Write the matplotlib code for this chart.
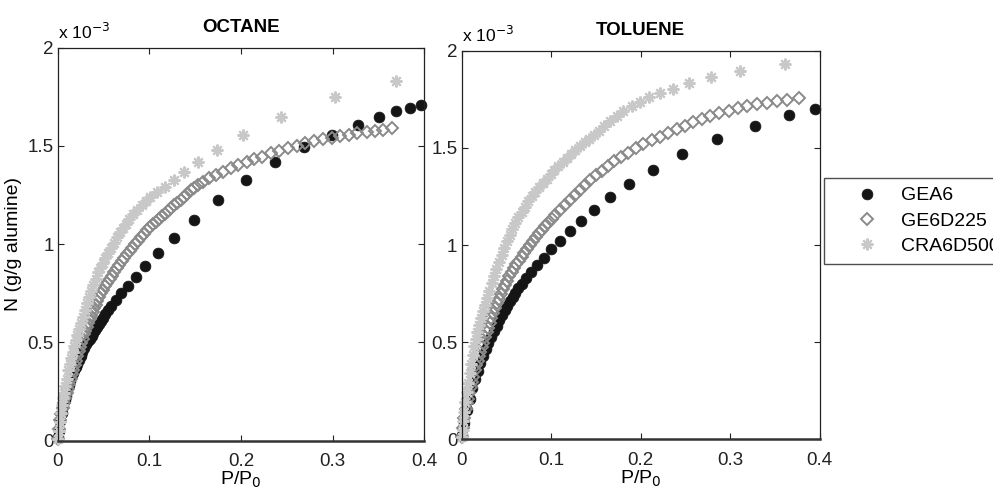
import matplotlib
matplotlib.use('Agg')
import matplotlib.pyplot as plt
from matplotlib.lines import Line2D

plt.rcParams['font.family'] = ['Liberation Sans', 'DejaVu Sans']

# series labels
labels = ['GEA6', 'GE6D225', 'CRA6D500']

# ---- OCTANE : P/P0 and N (N in units of 1e-3 g/g alumine) ----
oct_gea6_p = [0.0005, 0.0015, 0.003, 0.0045, 0.006, 0.0075, 0.009, 0.0105, 0.012, 0.0135,
              0.015, 0.0165, 0.018, 0.0195, 0.021, 0.023, 0.025, 0.027, 0.029, 0.031,
              0.033, 0.035, 0.037, 0.039, 0.041, 0.043, 0.045, 0.047, 0.0495, 0.052,
              0.0548, 0.0577, 0.0632, 0.069, 0.0766, 0.0853, 0.0955, 0.1098, 0.1269, 0.1484,
              0.1752, 0.2055, 0.2371, 0.2691, 0.2996, 0.3277, 0.3502, 0.369, 0.3844, 0.396]
oct_gea6_n = [0.02, 0.05, 0.10, 0.14, 0.175, 0.205, 0.23, 0.26, 0.285, 0.305,
              0.325, 0.345, 0.36, 0.375, 0.39, 0.41, 0.43, 0.45, 0.47, 0.49,
              0.505, 0.52, 0.535, 0.55, 0.565, 0.58, 0.595, 0.61, 0.625, 0.645,
              0.665, 0.685, 0.716, 0.750, 0.787, 0.833, 0.889, 0.957, 1.033, 1.123,
              1.223, 1.325, 1.417, 1.496, 1.554, 1.607, 1.646, 1.678, 1.695, 1.708]

oct_ge6d225_p = [0.0002, 0.0012, 0.0025, 0.004, 0.0055, 0.007, 0.0085, 0.0098, 0.0113, 0.0128,
                 0.0143, 0.0157, 0.017, 0.0185, 0.020, 0.0215, 0.023, 0.0243, 0.0258, 0.0273,
                 0.0288, 0.0302, 0.0316, 0.0332, 0.0348, 0.0364, 0.038, 0.0397, 0.0415, 0.0434,
                 0.0454, 0.0475, 0.0498, 0.052, 0.0543, 0.0567, 0.0592, 0.0618, 0.0644, 0.067,
                 0.0698, 0.0726, 0.0755, 0.0785, 0.0815, 0.0846, 0.0878, 0.091, 0.0942, 0.0975,
                 0.1007, 0.1038, 0.107, 0.1102, 0.1135, 0.1168, 0.1202, 0.1236, 0.127, 0.1305,
                 0.134, 0.1376, 0.1413, 0.1451, 0.149, 0.153, 0.1582, 0.1651, 0.1727, 0.1807,
                 0.1891, 0.1971, 0.2062, 0.2146, 0.2233, 0.2324, 0.2415, 0.2509, 0.2608, 0.2702,
                 0.28, 0.2891, 0.299, 0.308, 0.3178, 0.3269, 0.3372, 0.3462, 0.3553, 0.3651]
oct_ge6d225_n = [0.01, 0.06, 0.105, 0.135, 0.165, 0.19, 0.215, 0.241, 0.265, 0.29,
                 0.315, 0.338, 0.36, 0.384, 0.408, 0.432, 0.456, 0.478, 0.499, 0.52,
                 0.541, 0.56, 0.58, 0.599, 0.618, 0.637, 0.656, 0.674, 0.693, 0.712,
                 0.731, 0.75, 0.767, 0.785, 0.803, 0.822, 0.84, 0.86, 0.878, 0.895,
                 0.913, 0.93, 0.948, 0.966, 0.983, 1.0, 1.018, 1.035, 1.052, 1.07,
                 1.088, 1.101, 1.115, 1.128, 1.142, 1.156, 1.17, 1.184, 1.198, 1.212,
                 1.227, 1.242, 1.258, 1.274, 1.287, 1.3, 1.318, 1.335, 1.352, 1.369,
                 1.386, 1.403, 1.420, 1.432, 1.445, 1.463, 1.476, 1.488, 1.501, 1.513,
                 1.525, 1.534, 1.542, 1.551, 1.557, 1.564, 1.573, 1.578, 1.581, 1.590]

oct_cra6d500_p = [0.0002, 0.0012, 0.0024, 0.0036, 0.0048, 0.006, 0.0072, 0.0085, 0.0099, 0.0116,
                  0.0131, 0.0147, 0.0163, 0.018, 0.0197, 0.0215, 0.0233, 0.0252, 0.0272, 0.0293,
                  0.0316, 0.034, 0.0365, 0.039, 0.0416, 0.0443, 0.0462, 0.049, 0.052, 0.055,
                  0.058, 0.0612, 0.0644, 0.0677, 0.071, 0.0745, 0.078, 0.0825, 0.087, 0.0915,
                  0.096, 0.1007, 0.1087, 0.1171, 0.1269, 0.1378, 0.1528, 0.1735, 0.2025, 0.2436,
                  0.3029, 0.3691]
oct_cra6d500_n = [0.01, 0.05, 0.095, 0.14, 0.183, 0.215, 0.245, 0.28, 0.315, 0.36,
                  0.39, 0.42, 0.45, 0.48, 0.51, 0.54, 0.568, 0.597, 0.628, 0.664,
                  0.699, 0.73, 0.76, 0.79, 0.825, 0.858, 0.88, 0.905, 0.93, 0.955,
                  0.98, 1.008, 1.035, 1.06, 1.083, 1.105, 1.127, 1.152, 1.175, 1.197,
                  1.218, 1.24, 1.267, 1.293, 1.327, 1.366, 1.417, 1.479, 1.556, 1.649,
                  1.751, 1.832]

# ---- TOLUENE ----
tol_gea6_p = [0.0005, 0.003, 0.006, 0.009, 0.012, 0.015, 0.018, 0.021, 0.024, 0.027,
              0.030, 0.033, 0.036, 0.039, 0.042, 0.045, 0.048, 0.051, 0.054, 0.057,
              0.060, 0.0635, 0.0671, 0.0716, 0.0775, 0.0838, 0.0915, 0.0999, 0.110, 0.1208,
              0.1332, 0.148, 0.1661, 0.1874, 0.2134, 0.2467, 0.2853, 0.3274, 0.366, 0.3952]
tol_gea6_n = [0.02, 0.085, 0.15, 0.21, 0.262, 0.31, 0.353, 0.393, 0.43, 0.465,
              0.497, 0.528, 0.557, 0.585, 0.612, 0.638, 0.663, 0.687, 0.71, 0.733,
              0.754, 0.777, 0.80, 0.829, 0.861, 0.895, 0.935, 0.978, 1.022, 1.07,
              1.124, 1.18, 1.245, 1.312, 1.386, 1.467, 1.544, 1.614, 1.667, 1.702]

tol_ge6d225_p = [0.0003, 0.0015, 0.003, 0.0045, 0.0057, 0.007, 0.0085, 0.01, 0.0115, 0.013,
                 0.015, 0.0165, 0.018, 0.0195, 0.021, 0.0225, 0.024, 0.0261, 0.0278, 0.0295,
                 0.0313, 0.0332, 0.0352, 0.0373, 0.0394, 0.0416, 0.0438, 0.0461, 0.0485, 0.0509,
                 0.0534, 0.0559, 0.0585, 0.0612, 0.064, 0.0671, 0.0702, 0.0733, 0.0765, 0.0797,
                 0.083, 0.0863, 0.0897, 0.0932, 0.0968, 0.1005, 0.1043, 0.11, 0.1155, 0.1211,
                 0.1267, 0.1323, 0.1379, 0.1435, 0.1502, 0.1565, 0.1632, 0.1706, 0.1781, 0.1863,
                 0.1949, 0.203, 0.2124, 0.2217, 0.231, 0.2403, 0.2496, 0.2589, 0.2683, 0.2775,
                 0.2879, 0.2988, 0.3092, 0.3192, 0.3304, 0.3416, 0.3521, 0.3632, 0.3765]
tol_ge6d225_n = [0.01, 0.06, 0.11, 0.155, 0.185, 0.21, 0.24, 0.268, 0.295, 0.322,
                 0.357, 0.38, 0.403, 0.427, 0.45, 0.473, 0.496, 0.528, 0.551, 0.574,
                 0.598, 0.623, 0.65, 0.677, 0.70, 0.724, 0.748, 0.772, 0.796, 0.817,
                 0.838, 0.859, 0.88, 0.90, 0.92, 0.94, 0.96, 0.98, 1.0, 1.02,
                 1.04, 1.06, 1.078, 1.097, 1.115, 1.134, 1.152, 1.18, 1.206, 1.232,
                 1.257, 1.283, 1.309, 1.335, 1.36, 1.382, 1.407, 1.432, 1.454, 1.475,
                 1.498, 1.52, 1.54, 1.557, 1.578, 1.595, 1.614, 1.631, 1.647, 1.664,
                 1.678, 1.691, 1.704, 1.715, 1.724, 1.732, 1.741, 1.746, 1.757]

tol_cra6d500_p = [0.0002, 0.001, 0.002, 0.003, 0.0042, 0.0057, 0.0072, 0.0088, 0.0105, 0.0122,
                  0.014, 0.0158, 0.0177, 0.0197, 0.0218, 0.024, 0.0262, 0.0285, 0.031, 0.0336,
                  0.0362, 0.0389, 0.0417, 0.0446, 0.0475, 0.0505, 0.0536, 0.0568, 0.06, 0.0634,
                  0.0671, 0.0708, 0.0746, 0.0785, 0.0825, 0.0866, 0.0908, 0.095, 0.0993, 0.1037,
                  0.1082, 0.1128, 0.1175, 0.1223, 0.1272, 0.1322, 0.1373, 0.1425, 0.1478, 0.1532,
                  0.1587, 0.1658, 0.1732, 0.1807, 0.19, 0.1993, 0.2098, 0.2217, 0.2365, 0.2544,
                  0.2783, 0.311, 0.3613]
tol_cra6d500_n = [0.01, 0.05, 0.095, 0.14, 0.19, 0.245, 0.29, 0.34, 0.39, 0.435,
                  0.48, 0.515, 0.55, 0.587, 0.623, 0.658, 0.692, 0.726, 0.765, 0.803,
                  0.84, 0.877, 0.913, 0.95, 0.985, 1.02, 1.052, 1.083, 1.113, 1.143,
                  1.172, 1.198, 1.224, 1.25, 1.275, 1.298, 1.32, 1.342, 1.363, 1.385,
                  1.405, 1.425, 1.446, 1.467, 1.488, 1.508, 1.528, 1.548, 1.568, 1.588,
                  1.61, 1.638, 1.665, 1.692, 1.717, 1.738, 1.76, 1.781, 1.803, 1.832,
                  1.863, 1.897, 1.932]

x_ticks = [0, 0.1, 0.2, 0.3, 0.4]
x_tick_labels = ['0', '0.1', '0.2', '0.3', '0.4']
y_ticks = [0, 0.5, 1, 1.5, 2]
y_tick_labels = ['0', '0.5', '1', '1.5', '2']

# marker styles (matlab look: filled dot, open diamond, asterisk)
styles = [dict(marker='o', color='#151515', markersize=7.8, markeredgewidth=0.5,
               markeredgecolor='#151515'),
          dict(marker='D', color='#8a8a8a', markersize=6.0, markeredgewidth=1.4,
               markerfacecolor='none', markeredgecolor='#8a8a8a'),
          dict(marker=(8, 2, 0), color='#c8c8c8', markersize=8.5, markeredgewidth=1.5,
               markeredgecolor='#c8c8c8')]


def DrawPanel(ax, series, title):
    '''
    draw one isotherm panel
    series : list of (p, n) pairs, same order as labels
    '''
    for (p, n), st in zip(series, styles):
        ax.plot(p, n, linestyle='none', clip_on=False, **st)
    ax.set_xlim(0, 0.4)
    ax.set_ylim(0, 2)
    ax.set_xticks(x_ticks)
    ax.set_xticklabels(x_tick_labels)
    ax.set_yticks(y_ticks)
    ax.set_yticklabels(y_tick_labels)
    ax.tick_params(direction='in', top=True, right=True, length=4, width=0.8,
                   labelsize=13.5, colors='#222222')
    ax.tick_params(axis='x', pad=9)
    ax.tick_params(axis='y', pad=3)
    for side in ['top', 'left', 'right']:
        ax.spines[side].set_linewidth(0.9)
        ax.spines[side].set_color('#222222')
    ax.spines['bottom'].set_linewidth(1.8)
    ax.spines['bottom'].set_color('#333333')
    ax.set_xlabel('P/P$_0$', fontsize=14, labelpad=0)
    ax.set_title(title, fontsize=13.5, fontweight='bold', pad=11)
    # matlab style exponent label
    ax.text(0.0, 1.015, 'x 10$^{-3}$', transform=ax.transAxes, fontsize=12.5,
            ha='left', va='bottom')


fig = plt.figure(figsize=(9.93, 4.95), dpi=100)
ax1 = fig.add_axes([0.0581, 0.1097, 0.3692, 0.7939])
ax2 = fig.add_axes([0.4649, 0.1125, 0.3605, 0.7851])

DrawPanel(ax1, [(oct_gea6_p, oct_gea6_n), (oct_ge6d225_p, oct_ge6d225_n),
                (oct_cra6d500_p, oct_cra6d500_n)], 'OCTANE')
DrawPanel(ax2, [(tol_gea6_p, tol_gea6_n), (tol_ge6d225_p, tol_ge6d225_n),
                (tol_cra6d500_p, tol_cra6d500_n)], 'TOLUENE')
ax1.set_ylabel('N (g/g alumine)', fontsize=14, labelpad=4)

# legend sticks out of the figure on the right, like the original
handles = [Line2D([], [], linestyle='none', **st) for st in styles]
leg = fig.legend(handles, labels, loc='upper left', bbox_to_anchor=(824 / 993, 1 - 178 / 495),
                 fontsize=14, frameon=True, fancybox=False, numpoints=1,
                 handlelength=3.5, handletextpad=0.0, borderpad=0.45, labelspacing=0.4,
                 borderaxespad=0)
leg.get_frame().set_edgecolor('#222222')
leg.get_frame().set_linewidth(1.0)

plt.savefig('out.png', dpi=100)
